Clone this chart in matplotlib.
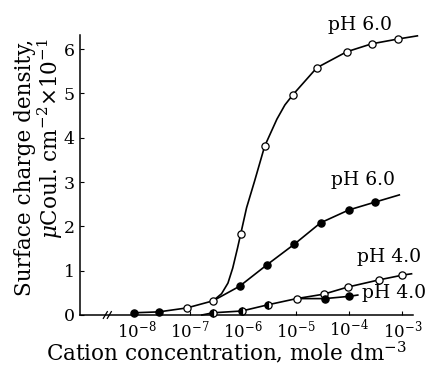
import matplotlib
matplotlib.use("Agg")
import matplotlib.pyplot as plt
import numpy as np

plt.rcParams["font.family"] = ["DejaVu Serif"]
plt.rcParams["mathtext.fontset"] = "dejavuserif"

# concentrations given as log10(mol dm^-3), charge in uC cm^-2 x 10^-1
# pH 6.0 (open circles, upper curve) - line
ph6_open_curve_log = [-8.05, -7.58, -7.05, -6.56, -6.40, -6.28, -6.19, -6.10, -6.04,
                      -5.93, -5.78, -5.59, -5.36, -5.21, -5.06, -4.61, -4.05,
                      -3.58, -3.08, -2.72]
ph6_open_curve_val = [0.05, 0.07, 0.16, 0.32, 0.48, 0.72, 1.06, 1.51, 1.83,
                      2.42, 3.02, 3.81, 4.42, 4.74, 4.97, 5.58, 5.94,
                      6.12, 6.23, 6.30]
ph6_open_log = [-7.05, -6.56, -6.04, -5.59, -5.06, -4.61, -4.05, -3.58, -3.08]
ph6_open_val = [0.16, 0.32, 1.83, 3.81, 4.97, 5.58, 5.94, 6.12, 6.23]
common_filled_log = [-8.05, -7.58]
common_filled_val = [0.05, 0.07]

# pH 6.0 (filled circles, lower curve)
ph6_filled_line_log = [-6.56, -6.06, -5.55, -5.03, -4.54, -4.01, -3.51, -3.06]
ph6_filled_line_val = [0.32, 0.65, 1.13, 1.60, 2.08, 2.37, 2.55, 2.71]
ph6_filled_log = [-6.06, -5.55, -5.03, -4.54, -4.01, -3.51]
ph6_filled_val = [0.65, 1.13, 1.60, 2.08, 2.37, 2.55]

# pH 4.0 common part (half-filled) then two branches
ph4_common_log = [-6.77, -6.56, -6.02, -5.53, -4.99]
ph4_common_val = [0.0, 0.05, 0.09, 0.23, 0.37]
ph4_half_log = [-6.56, -6.02, -5.53]
ph4_half_val = [0.05, 0.09, 0.23]
ph4_open_line_log = [-4.99, -4.48, -4.03, -3.45, -3.00, -2.83]
ph4_open_line_val = [0.37, 0.47, 0.63, 0.79, 0.90, 0.93]
ph4_open_log = [-4.99, -4.48, -4.03, -3.45, -3.00]
ph4_open_val = [0.37, 0.47, 0.63, 0.79, 0.90]
ph4_filled_line_log = [-4.99, -4.46, -4.01, -3.84]
ph4_filled_line_val = [0.37, 0.37, 0.42, 0.45]
ph4_filled_log = [-4.46, -4.01]
ph4_filled_val = [0.37, 0.42]

xtick_exp = [-8, -7, -6, -5, -4, -3]
ytick_vals = [0, 1, 2, 3, 4, 5, 6]


def conc(logs):
    return 10.0 ** np.array(logs)


fig = plt.figure(figsize=(4.29, 3.67), dpi=100)
ax = fig.add_axes([0.1865, 0.1417, 0.7765, 0.763])

lw = 1.2
ms = 5.2
line_kw = dict(color="black", linewidth=lw, clip_on=False, zorder=2)
open_kw = dict(linestyle="none", marker="o", markersize=ms, markerfacecolor="white",
               markeredgecolor="black", markeredgewidth=0.9, clip_on=False, zorder=3)
fill_kw = dict(linestyle="none", marker="o", markersize=ms, markerfacecolor="black",
               markeredgecolor="black", markeredgewidth=0.9, clip_on=False, zorder=3)

ax.plot(conc(ph6_open_curve_log), ph6_open_curve_val, **line_kw)
ax.plot(conc(ph6_filled_line_log), ph6_filled_line_val, **line_kw)
ax.plot(conc(ph4_common_log), ph4_common_val, **line_kw)
ax.plot(conc(ph4_open_line_log), ph4_open_line_val, **line_kw)
ax.plot(conc(ph4_filled_line_log), ph4_filled_line_val, **line_kw)

ax.plot(conc(common_filled_log), common_filled_val, **fill_kw)
ax.plot(conc(ph6_open_log), ph6_open_val, **open_kw)
ax.plot(conc(ph6_filled_log), ph6_filled_val, **fill_kw)
ax.plot(conc(ph4_half_log), ph4_half_val, linestyle="none", marker="o", markersize=ms,
        fillstyle="left", markerfacecolor="black", markerfacecoloralt="white",
        markeredgecolor="black", markeredgewidth=0.9, clip_on=False, zorder=3)
ax.plot(conc(ph4_open_log), ph4_open_val, **open_kw)
ax.plot(conc(ph4_filled_log), ph4_filled_val, **fill_kw)

ax.set_xscale("log")
ax.set_xlim(10 ** -9.06, 10 ** -2.8)
ax.set_ylim(0, 6.32)
ax.set_xticks([10.0 ** e for e in xtick_exp])
ax.set_xticklabels([r"$10^{%d}$" % e for e in xtick_exp])
ax.xaxis.set_minor_locator(matplotlib.ticker.NullLocator())
ax.set_yticks(ytick_vals)
ax.set_yticklabels([str(v) for v in ytick_vals])
ax.tick_params(axis="both", direction="in", length=3, width=0.8, labelsize=12.5)
ax.tick_params(axis="x", labelsize=12, pad=3)
ax.tick_params(axis="y", pad=4)

for side in ["top", "right"]:
    ax.spines[side].set_visible(False)
for side in ["left", "bottom"]:
    ax.spines[side].set_linewidth(1.1)

# axis break marks
for dx in (0.076, 0.088):
    ax.plot([dx - 0.006, dx + 0.006], [-0.012, 0.012], transform=ax.transAxes,
            color="black", linewidth=0.9, clip_on=False)

fig.text(0.527, 0.038, r"Cation concentration, mole dm$^{-3}$", fontsize=15.5,
         ha="center", va="center")

fig.text(0.058, 0.895, "Surface charge density,", rotation=90, ha="center", va="top",
         fontsize=15.5)
fig.text(0.117, 0.895, r"$\mu$Coul. cm$^{-2}$$\times$10$^{-1}$", rotation=90,
         ha="center", va="top", fontsize=15.5)

ax.text(10 ** -4.4, 6.55, "pH 6.0", fontsize=13.5, ha="left", va="center", clip_on=False)
ax.text(10 ** -4.35, 3.05, "pH 6.0", fontsize=13.5, ha="left", va="center")
ax.text(10 ** -3.86, 1.31, "pH 4.0", fontsize=13.5, ha="left", va="center")
ax.text(10 ** -3.77, 0.49, "pH 4.0", fontsize=13.5, ha="left", va="center", clip_on=False)

fig.savefig("out.png", dpi=100)
